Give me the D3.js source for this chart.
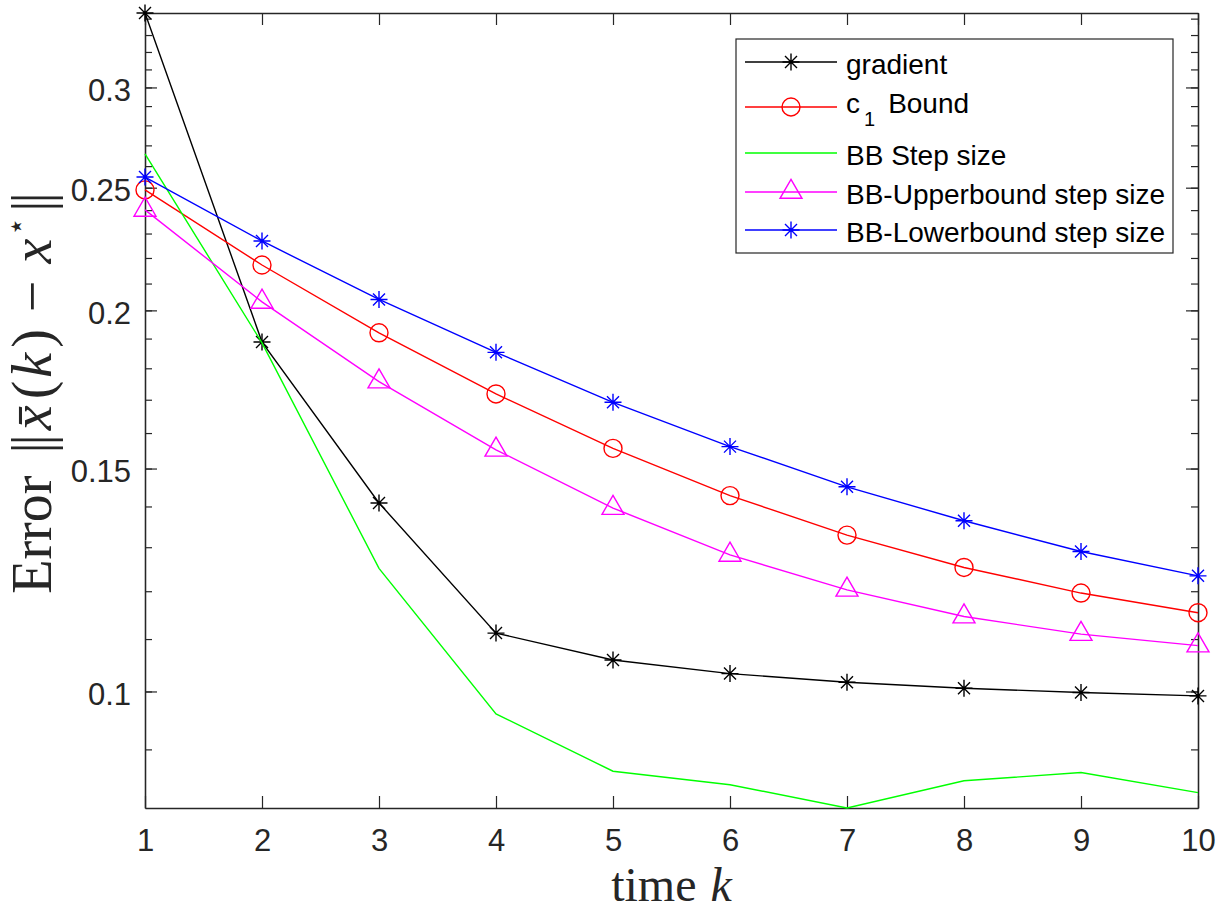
<!DOCTYPE html>
<html>
<head>
<meta charset="utf-8">
<script src="https://cdn.jsdelivr.net/npm/d3@7"></script>
<style>
  html, body { margin: 0; padding: 0; background: #fff; }
  svg { display: block; }
  .tick text { font-family: "Liberation Sans", Arial, Helvetica, sans-serif; }
</style>
</head>
<body>
<div id="chart"></div>
<script>
// --- data ---
const timeK = [1, 2, 3, 4, 5, 6, 7, 8, 9, 10];
const gradient   = [0.3435, 0.1888, 0.1409, 0.1112, 0.1059, 0.1033, 0.1017, 0.1006, 0.0998, 0.0992];
const c1Bound    = [0.2490, 0.2172, 0.1920, 0.1718, 0.1556, 0.1428, 0.1329, 0.1253, 0.1196, 0.1154];
const bbStep     = [0.2658, 0.1885, 0.1251, 0.0960, 0.0865, 0.0844, 0.0809, 0.0850, 0.0863, 0.0832];
const bbUpper    = [0.2401, 0.2031, 0.1757, 0.1552, 0.1396, 0.1282, 0.1203, 0.1146, 0.1110, 0.1087];
const bbLower    = [0.2549, 0.2269, 0.2040, 0.1853, 0.1692, 0.1561, 0.1451, 0.1364, 0.1290, 0.1234];

const seriesNames   = ["gradient", "c1 Bound", "BB Step size", "BB-Upperbound step size", "BB-Lowerbound step size"];
const seriesColors  = ["#000000", "#ff0000", "#00ff00", "#ff00ff", "#0000ff"];
const seriesMarkers = ["star", "circle", "none", "triangle", "star"];
const seriesValues  = [gradient, c1Bound, bbStep, bbUpper, bbLower];

const yMajorTicks = [0.1, 0.15, 0.2, 0.25, 0.3];
const yMinorTicks = d3.range(9, 35).map(d => d / 100);

// --- layout ---
const width = 1228, height = 910;
const plot = { left: 145, right: 1198, top: 13, bottom: 808 };
const axisColor = "#262626";
const tickFont = 31;

const svg = d3.select("#chart").append("svg")
  .attr("width", width)
  .attr("height", height);

const allVals = seriesValues.flat();

const x = d3.scaleLinear().domain(d3.extent(timeK)).range([plot.left, plot.right]);
const y = d3.scaleLog().domain(d3.extent(allVals)).range([plot.bottom, plot.top]);

function styleAxis(g) {
  g.select(".domain").attr("stroke", axisColor).attr("stroke-width", 1.3);
  g.selectAll(".tick line").attr("stroke", axisColor).attr("stroke-width", 1.2);
  g.selectAll(".tick text").attr("fill", axisColor).attr("font-size", tickFont);
}

// bottom axis
svg.append("g")
  .attr("transform", `translate(0,${plot.bottom})`)
  .call(d3.axisBottom(x).tickValues(timeK).tickFormat(d3.format("d"))
    .tickSizeInner(-12).tickSizeOuter(0).tickPadding(21))
  .call(styleAxis);

// top axis (ticks only)
svg.append("g")
  .attr("transform", `translate(0,${plot.top})`)
  .call(d3.axisTop(x).tickValues(timeK).tickFormat("")
    .tickSizeInner(-12).tickSizeOuter(0))
  .call(styleAxis);

// left axis: minor then major
svg.append("g")
  .attr("transform", `translate(${plot.left},0)`)
  .call(d3.axisLeft(y).tickValues(yMinorTicks).tickFormat("")
    .tickSizeInner(-7).tickSizeOuter(0))
  .call(styleAxis);

const leftMajor = svg.append("g")
  .attr("transform", `translate(${plot.left},0)`)
  .call(d3.axisLeft(y).tickValues(yMajorTicks).tickFormat(d => String(d))
    .tickSizeInner(-12).tickSizeOuter(0).tickPadding(14))
  .call(styleAxis);
leftMajor.selectAll(".tick text").attr("dy", "0.42em");

// right axis: minor + major ticks, no labels
svg.append("g")
  .attr("transform", `translate(${plot.right},0)`)
  .call(d3.axisRight(y).tickValues(yMinorTicks).tickFormat("")
    .tickSizeInner(-7).tickSizeOuter(0))
  .call(styleAxis);
svg.append("g")
  .attr("transform", `translate(${plot.right},0)`)
  .call(d3.axisRight(y).tickValues(yMajorTicks).tickFormat("")
    .tickSizeInner(-12).tickSizeOuter(0))
  .call(styleAxis);

// marker shapes
const markerPath = {
  star: "M-8.5,0H8.5M0,-8.5V8.5M-6,-6L6,6M-6,6L6,-6",
  triangle: "M0,-12.7L11,6.3L-11,6.3Z"
};

function drawMarker(g, type, color) {
  if (type === "circle") {
    g.append("circle").attr("r", 9)
      .attr("fill", "none").attr("stroke", color).attr("stroke-width", 1.4);
  } else if (type !== "none") {
    g.append("path").attr("d", markerPath[type])
      .attr("fill", "none").attr("stroke", color).attr("stroke-width", 1.4);
  }
}

const line = d3.line()
  .x((d, i) => x(timeK[i]))
  .y(d => y(d));

// series, in plot order
seriesValues.forEach((vals, si) => {
  const g = svg.append("g");
  g.append("path")
    .datum(vals)
    .attr("d", line)
    .attr("fill", "none")
    .attr("stroke", seriesColors[si])
    .attr("stroke-width", 1.4);

  if (seriesMarkers[si] !== "none") {
    g.selectAll("g.mk")
      .data(vals)
      .join("g")
      .attr("class", "mk")
      .attr("transform", (d, i) => `translate(${x(timeK[i])},${y(d)})`)
      .each(function () { drawMarker(d3.select(this), seriesMarkers[si], seriesColors[si]); });
  }
});

// --- legend ---
const legend = { x: 736, y: 39, w: 437, h: 214 };
const legendLineY = [23, 68, 114, 153, 191];   // row centers relative to box top
const legendTextDy = [12, 6, 12, 12, 12];

const lg = svg.append("g").attr("transform", `translate(${legend.x},${legend.y})`);
lg.append("rect")
  .attr("width", legend.w).attr("height", legend.h)
  .attr("fill", "#fff").attr("stroke", axisColor).attr("stroke-width", 1.2);

seriesNames.forEach((name, i) => {
  const row = lg.append("g").attr("transform", `translate(0,${legendLineY[i]})`);
  row.append("line")
    .attr("x1", 9).attr("x2", 101)
    .attr("stroke", seriesColors[i]).attr("stroke-width", 1.4);
  drawMarker(row.append("g").attr("transform", "translate(55,0)"), seriesMarkers[i], seriesColors[i]);

  const t = row.append("text")
    .attr("x", 110).attr("y", legendTextDy[i])
    .attr("font-family", "'Liberation Sans', Arial, Helvetica, sans-serif")
    .attr("font-size", 28)
    .attr("fill", "#000");
  if (name === "c1 Bound") {
    t.append("tspan").text("c");
    t.append("tspan").attr("font-size", 20).attr("dx", 4).attr("dy", 13).text("1");
    t.append("tspan").attr("dx", 13).attr("dy", -13).text("Bound");
  } else {
    t.text(name);
  }
});

// --- axis labels (LaTeX style) ---
const serif = "'Liberation Serif', 'Times New Roman', 'DejaVu Serif', serif";

const xl = svg.append("text")
  .attr("x", (plot.left + plot.right) / 2)
  .attr("y", 901)
  .attr("text-anchor", "middle")
  .attr("font-family", serif)
  .attr("font-size", 48)
  .attr("fill", axisColor);
xl.append("tspan").text("time");
xl.append("tspan").attr("dx", 14).attr("font-style", "italic").text("k");

const yl = svg.append("text")
  .attr("transform", "translate(51,393) rotate(-90)")
  .attr("text-anchor", "middle")
  .attr("font-family", serif)
  .attr("font-size", 56)
  .attr("fill", axisColor);
yl.append("tspan").text("Error");
yl.append("tspan").attr("dx", 22).text("|");
yl.append("tspan").attr("dx", -3).text("|");
yl.append("tspan").attr("dx", 4).attr("font-style", "italic").text("x\u0304");
yl.append("tspan").attr("dx", 6).text("(");
yl.append("tspan").attr("dx", 3).attr("font-style", "italic").text("k");
yl.append("tspan").attr("dx", 5).text(")");
yl.append("tspan").attr("dx", 17).text("\u2212");
yl.append("tspan").attr("dx", 17).attr("font-style", "italic").text("x");
yl.append("tspan").attr("dx", 3).attr("font-size", 30).attr("dy", -25).text("\u22c6");
yl.append("tspan").attr("dx", 5).attr("dy", 25).text("|");
yl.append("tspan").attr("dx", -3).text("|");
</script>
</body>
</html>
